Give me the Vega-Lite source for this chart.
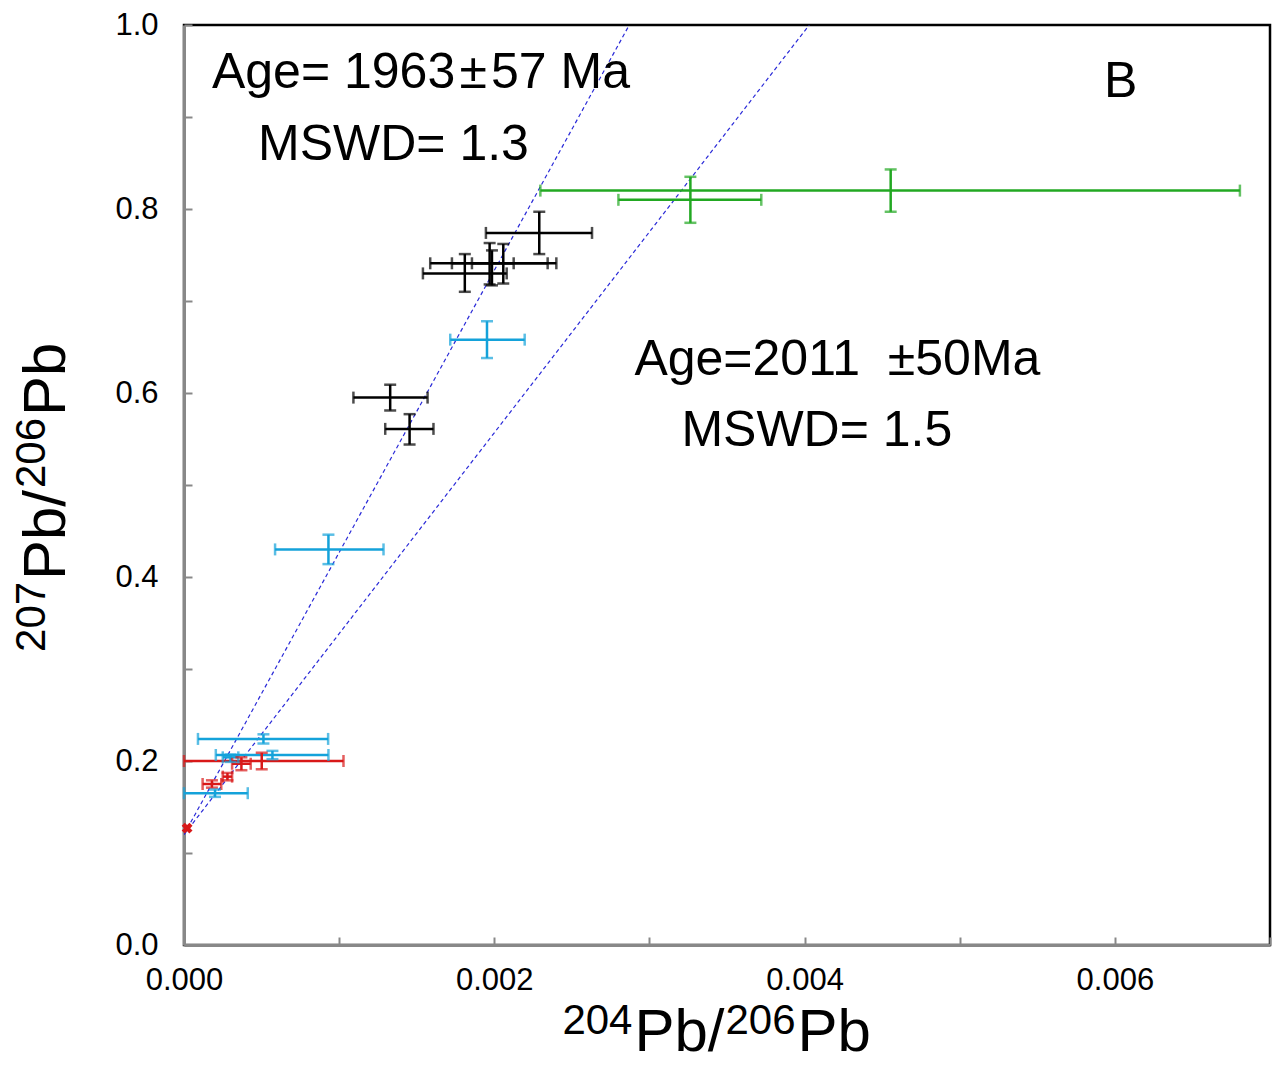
{
  "$schema": "https://vega.github.io/schema/vega-lite/v6.json",
  "width": 1086,
  "height": 920,
  "autosize": {"type": "none"},
  "padding": {"left": 184, "top": 25, "right": 4, "bottom": 120},
  "background": "white",
  "config": {
    "font": "Liberation Sans",
    "view": {"stroke": "black", "strokeWidth": 2.5},
    "axis": {
      "grid": false,
      "domainColor": "#888888",
      "domainWidth": 3,
      "tickColor": "#888888",
      "tickWidth": 2,
      "tickSize": -8,
      "labelColor": "black",
      "labelFontSize": 31,
      "labelFont": "Liberation Sans",
      "labelFlush": false,
      "labelOverlap": false
    }
  },
  "datasets": {
    "pts": [
      {"g": "black", "x": 0.00229, "xlo": 0.001946, "xhi": 0.00263, "y": 0.774, "ylo": 0.751, "yhi": 0.797},
      {"g": "black", "x": 0.00181, "xlo": 0.00154, "xhi": 0.00208, "y": 0.730, "ylo": 0.710, "yhi": 0.751},
      {"g": "black", "x": 0.00197, "xlo": 0.001587, "xhi": 0.0024, "y": 0.741, "ylo": 0.718, "yhi": 0.763},
      {"g": "black", "x": 0.001985, "xlo": 0.001856, "xhi": 0.002125, "y": 0.741, "ylo": 0.717, "yhi": 0.755},
      {"g": "black", "x": 0.002058, "xlo": 0.001727, "xhi": 0.002344, "y": 0.741, "ylo": 0.719, "yhi": 0.762},
      {"g": "black", "x": 0.001329, "xlo": 0.001092, "xhi": 0.00157, "y": 0.595, "ylo": 0.581, "yhi": 0.609},
      {"g": "black", "x": 0.001454, "xlo": 0.001297, "xhi": 0.001608, "y": 0.561, "ylo": 0.544, "yhi": 0.577},
      {"g": "blue", "x": 0.001953, "xlo": 0.001716, "xhi": 0.002196, "y": 0.658, "ylo": 0.638, "yhi": 0.678},
      {"g": "blue", "x": 0.000931, "xlo": 0.000587, "xhi": 0.001286, "y": 0.430, "ylo": 0.414, "yhi": 0.446},
      {"g": "blue", "x": 0.000512, "xlo": 0.00009, "xhi": 0.000929, "y": 0.224, "ylo": 0.219, "yhi": 0.229},
      {"g": "blue", "x": 0.00057, "xlo": 0.000205, "xhi": 0.000931, "y": 0.2065, "ylo": 0.202, "yhi": 0.211},
      {"g": "blue", "x": 0.0002, "xlo": 0.0, "xhi": 0.000411, "y": 0.165, "ylo": 0.161, "yhi": 0.169},
      {"g": "blue", "x": 0.0003, "xlo": 0.00025, "xhi": 0.00035, "y": 0.204, "ylo": 0.199, "yhi": 0.207},
      {"g": "green", "x": 0.004555, "xlo": 0.002297, "xhi": 0.006806, "y": 0.820, "ylo": 0.797, "yhi": 0.843},
      {"g": "green", "x": 0.003264, "xlo": 0.0028, "xhi": 0.003721, "y": 0.810, "ylo": 0.785, "yhi": 0.835},
      {"g": "red", "x": 0.000501, "xlo": 0.0, "xhi": 0.001028, "y": 0.200, "ylo": 0.191, "yhi": 0.209},
      {"g": "red", "x": 0.00037, "xlo": 0.00031, "xhi": 0.00043, "y": 0.197, "ylo": 0.190, "yhi": 0.204},
      {"g": "red", "x": 0.00028, "xlo": 0.00025, "xhi": 0.00031, "y": 0.183, "ylo": 0.179, "yhi": 0.187},
      {"g": "red", "x": 0.00018, "xlo": 0.00012, "xhi": 0.00024, "y": 0.175, "ylo": 0.171, "yhi": 0.179}
    ],
    "star": [{"g": "red", "x": 0.00002, "y": 0.127}],
    "lines": [
      {"id": "L1", "x": 0.0, "y": 0.12},
      {"id": "L1", "x": 0.00287, "y": 1.0},
      {"id": "L2", "x": 0.0, "y": 0.12},
      {"id": "L2", "x": 0.00403, "y": 1.0}
    ],
    "labels": [
      {"t": "Age= 1963\u200a±\u200a57 Ma", "x": 0.00018, "y": 0.9315},
      {"t": "MSWD= 1.3", "x": 0.000477, "y": 0.853},
      {"t": "B", "x": 0.00593, "y": 0.922},
      {"t": "Age=2011\u00a0\u00a0±50Ma", "x": 0.002903, "y": 0.6196},
      {"t": "MSWD= 1.5", "x": 0.003206, "y": 0.5424}
    ]
  },
  "layer": [
    {
      "data": {"name": "lines"},
      "mark": {"type": "line", "color": "#2a2ad8", "strokeWidth": 1.2, "strokeDash": [4, 3], "clip": true},
      "encoding": {
        "x": {
          "field": "x", "type": "quantitative",
          "scale": {"domain": [0, 0.007], "nice": false, "zero": false},
          "axis": {
            "values": [0, 0.001, 0.002, 0.003, 0.004, 0.005, 0.006, 0.007],
            "labelExpr": "(round(datum.value*1000) % 2 == 0) ? format(datum.value, '.3f') : ''",
            "labelPadding": 28,
            "title": null
          }
        },
        "y": {
          "field": "y", "type": "quantitative",
          "scale": {"domain": [0, 1], "nice": false, "zero": false},
          "axis": {
            "values": [0, 0.1, 0.2, 0.3, 0.4, 0.5, 0.6, 0.7, 0.8, 0.9, 1.0],
            "labelExpr": "(round(datum.value*10) % 2 == 0) ? format(datum.value, '.1f') : ''",
            "labelPadding": 34,
            "title": null
          }
        },
        "detail": {"field": "id"}
      }
    },
    {
      "data": {"name": "pts"},
      "mark": {"type": "rule", "strokeWidth": 2.5},
      "encoding": {
        "x": {"field": "xlo", "type": "quantitative"},
        "x2": {"field": "xhi"},
        "y": {"field": "y", "type": "quantitative"},
        "color": {"field": "g", "type": "nominal", "legend": null,
          "scale": {"domain": ["black", "blue", "green", "red"], "range": ["#000000", "#14a2da", "#22a822", "#d81818"]}}
      }
    },
    {
      "data": {"name": "pts"},
      "mark": {"type": "rule", "strokeWidth": 2.5},
      "encoding": {
        "x": {"field": "x", "type": "quantitative"},
        "y": {"field": "ylo", "type": "quantitative"},
        "y2": {"field": "yhi"},
        "color": {"field": "g", "type": "nominal", "legend": null}
      }
    },
    {
      "data": {"name": "pts"},
      "mark": {"type": "tick", "orient": "vertical", "size": 12, "thickness": 2.5},
      "encoding": {
        "x": {"field": "xlo", "type": "quantitative"},
        "y": {"field": "y", "type": "quantitative"},
        "color": {"field": "g", "type": "nominal", "legend": null}
      }
    },
    {
      "data": {"name": "pts"},
      "mark": {"type": "tick", "orient": "vertical", "size": 12, "thickness": 2.5},
      "encoding": {
        "x": {"field": "xhi", "type": "quantitative"},
        "y": {"field": "y", "type": "quantitative"},
        "color": {"field": "g", "type": "nominal", "legend": null}
      }
    },
    {
      "data": {"name": "pts"},
      "mark": {"type": "tick", "orient": "horizontal", "size": 12, "thickness": 2.5},
      "encoding": {
        "x": {"field": "x", "type": "quantitative"},
        "y": {"field": "ylo", "type": "quantitative"},
        "color": {"field": "g", "type": "nominal", "legend": null}
      }
    },
    {
      "data": {"name": "pts"},
      "mark": {"type": "tick", "orient": "horizontal", "size": 12, "thickness": 2.5},
      "encoding": {
        "x": {"field": "x", "type": "quantitative"},
        "y": {"field": "yhi", "type": "quantitative"},
        "color": {"field": "g", "type": "nominal", "legend": null}
      }
    },
    {
      "data": {"name": "star"},
      "mark": {"type": "point", "shape": "cross", "filled": true, "size": 120, "opacity": 1, "angle": 45},
      "encoding": {
        "x": {"field": "x", "type": "quantitative"},
        "y": {"field": "y", "type": "quantitative"},
        "color": {"field": "g", "type": "nominal", "legend": null}
      }
    },
    {
      "data": {"name": "labels"},
      "mark": {"type": "text", "align": "left", "baseline": "alphabetic", "fontSize": 50, "font": "Liberation Sans", "color": "black"},
      "encoding": {
        "x": {"field": "x", "type": "quantitative"},
        "y": {"field": "y", "type": "quantitative"},
        "text": {"field": "t"}
      }
    },
    {
      "data": {"values": [{}]},
      "mark": {"type": "text", "text": "204", "align": "left", "baseline": "alphabetic", "fontSize": 42, "font": "Liberation Sans", "color": "black"},
      "encoding": {"x": {"datum": 0.002439, "type": "quantitative"}, "y": {"datum": -0.0967, "type": "quantitative"}}
    },
    {
      "data": {"values": [{}]},
      "mark": {"type": "text", "text": "Pb/", "align": "left", "baseline": "alphabetic", "fontSize": 60, "font": "Liberation Sans", "color": "black"},
      "encoding": {"x": {"datum": 0.002903, "type": "quantitative"}, "y": {"datum": -0.1152, "type": "quantitative"}}
    },
    {
      "data": {"values": [{}]},
      "mark": {"type": "text", "text": "206", "align": "left", "baseline": "alphabetic", "fontSize": 42, "font": "Liberation Sans", "color": "black"},
      "encoding": {"x": {"datum": 0.00349, "type": "quantitative"}, "y": {"datum": -0.0967, "type": "quantitative"}}
    },
    {
      "data": {"values": [{}]},
      "mark": {"type": "text", "text": "Pb", "align": "left", "baseline": "alphabetic", "fontSize": 60, "font": "Liberation Sans", "color": "black"},
      "encoding": {"x": {"datum": 0.003955, "type": "quantitative"}, "y": {"datum": -0.1152, "type": "quantitative"}}
    },
    {
      "data": {"values": [{}]},
      "mark": {"type": "text", "text": "207", "angle": 270, "align": "left", "baseline": "alphabetic", "fontSize": 42, "font": "Liberation Sans", "color": "black"},
      "encoding": {"x": {"datum": -0.000897, "type": "quantitative"}, "y": {"datum": 0.3185, "type": "quantitative"}}
    },
    {
      "data": {"values": [{}]},
      "mark": {"type": "text", "text": "Pb/", "angle": 270, "align": "left", "baseline": "alphabetic", "fontSize": 60, "font": "Liberation Sans", "color": "black"},
      "encoding": {"x": {"datum": -0.000768, "type": "quantitative"}, "y": {"datum": 0.3967, "type": "quantitative"}}
    },
    {
      "data": {"values": [{}]},
      "mark": {"type": "text", "text": "206", "angle": 270, "align": "left", "baseline": "alphabetic", "fontSize": 42, "font": "Liberation Sans", "color": "black"},
      "encoding": {"x": {"datum": -0.000897, "type": "quantitative"}, "y": {"datum": 0.4967, "type": "quantitative"}}
    },
    {
      "data": {"values": [{}]},
      "mark": {"type": "text", "text": "Pb", "angle": 270, "align": "left", "baseline": "alphabetic", "fontSize": 60, "font": "Liberation Sans", "color": "black"},
      "encoding": {"x": {"datum": -0.000768, "type": "quantitative"}, "y": {"datum": 0.575, "type": "quantitative"}}
    }
  ]
}
